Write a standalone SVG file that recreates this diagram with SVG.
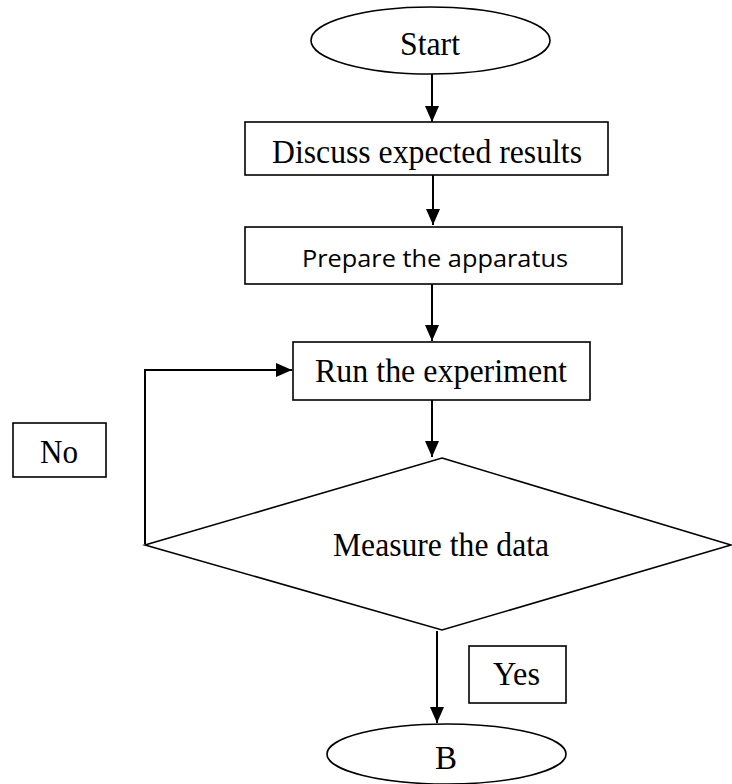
<svg xmlns="http://www.w3.org/2000/svg" width="732" height="784" viewBox="0 0 732 784">
<style>
.shape{fill:#fff;stroke:#000;stroke-width:1.6}
.serif{font-family:"Liberation Serif","Times New Roman",serif;font-size:33px;fill:#000}
.sans{font-family:"Open Sans",Lato,sans-serif;font-size:24px;fill:#000}
.conn{fill:none;stroke:#000;stroke-width:2}
</style>
<defs>
<marker id="arr" markerUnits="userSpaceOnUse" markerWidth="16" markerHeight="14" refX="16" refY="7" orient="auto">
<path d="M0,0 L16,7 L0,14 z" fill="#000"/>
</marker>
</defs>
<rect width="732" height="784" fill="#fff"/>
<g id="connectors">
<line class="conn" x1="432" y1="74" x2="432" y2="122" marker-end="url(#arr)"/>
<line class="conn" x1="433" y1="175" x2="433" y2="225" marker-end="url(#arr)"/>
<line class="conn" x1="432" y1="284" x2="432" y2="341" marker-end="url(#arr)"/>
<line class="conn" x1="432" y1="400" x2="432" y2="457" marker-end="url(#arr)"/>
<polyline class="conn" points="145,544 145,370 292,370" marker-end="url(#arr)"/>
<line class="conn" x1="437" y1="631" x2="437" y2="723" marker-end="url(#arr)"/>
</g>
<g id="start">
<ellipse class="shape" cx="430.5" cy="40.5" rx="119.5" ry="33.5"/>
<text class="serif" x="430" y="55" text-anchor="middle" textLength="60" lengthAdjust="spacingAndGlyphs">Start</text>
</g>
<g id="discuss">
<rect class="shape" x="245" y="122" width="363" height="53"/>
<text class="serif" x="272" y="163" textLength="310" lengthAdjust="spacingAndGlyphs">Discuss expected results</text>
</g>
<g id="prepare">
<rect class="shape" x="245" y="227" width="377" height="57"/>
<text class="sans" x="302" y="267" textLength="266" lengthAdjust="spacingAndGlyphs">Prepare the apparatus</text>
</g>
<g id="run">
<rect class="shape" x="293" y="342" width="297" height="58"/>
<text class="serif" x="315" y="382" textLength="252" lengthAdjust="spacingAndGlyphs">Run the experiment</text>
</g>
<g id="measure">
<polygon class="shape" points="442,458 731,545 442,630 145,545"/>
<text class="serif" x="333" y="556" textLength="216" lengthAdjust="spacingAndGlyphs">Measure the data</text>
</g>
<g id="no">
<rect class="shape" x="13" y="423" width="93" height="54"/>
<text class="serif" x="40" y="463" textLength="38" lengthAdjust="spacingAndGlyphs">No</text>
</g>
<g id="yes">
<rect class="shape" x="469" y="646" width="97" height="57"/>
<text class="serif" x="493" y="685" textLength="47" lengthAdjust="spacingAndGlyphs">Yes</text>
</g>
<g id="b">
<ellipse class="shape" cx="446.5" cy="754" rx="119.5" ry="30"/>
<text class="serif" x="446" y="769" text-anchor="middle">B</text>
</g>
</svg>
